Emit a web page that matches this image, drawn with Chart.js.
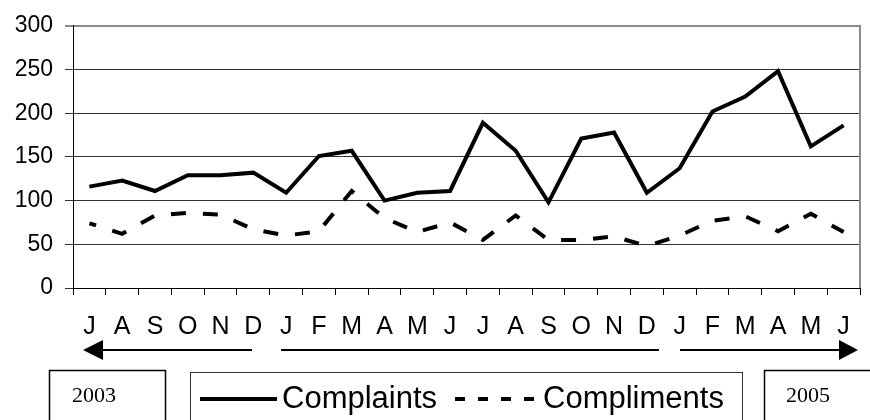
<!DOCTYPE html>
<html><head><meta charset="utf-8">
<script src="https://cdn.jsdelivr.net/npm/chart.js@4/dist/chart.umd.min.js"></script>
<style>html,body{margin:0;padding:0;background:#fff;} #wrap{width:870px;height:420px;position:relative;overflow:hidden}</style>
</head><body><div id="wrap"><canvas id="c" width="870" height="420"></canvas></div>
<script>
const months = ['J','A','S','O','N','D','J','F','M','A','M','J','J','A','S','O','N','D','J','F','M','A','M','J'];
const complaints = [116,123,111,129,129,132,109,151,157,100,109,111,189,157,98,171,178,109,137,202,219,248,162,186];
const compliments = [74,62,83,86,84,67,60,65,111,80,64,75,55,83,55,55,59,48,60,77,82,65,85,64];
const seriesNames = ['Complaints','Compliments'];
const yearLabels = ['2003','2005'];
const yMin = 0, yMax = 300, yStep = 50;

const SANS = '"Liberation Sans", Arial, sans-serif';
const SERIF = '"Liberation Serif", "Times New Roman", serif';

const extras = {
  id: 'extras',
  afterDraw(chart) {
    const ctx = chart.ctx;
    const a = chart.chartArea;
    ctx.save();
    // right plot border (gray)
    ctx.strokeStyle = '#8c8c8c';
    ctx.lineWidth = 2;
    ctx.beginPath();
    ctx.moveTo(a.right, a.top - 1);
    ctx.lineTo(a.right, a.bottom);
    ctx.stroke();

    // arrows
    const ay = 350;
    ctx.strokeStyle = '#000';
    ctx.fillStyle = '#000';
    ctx.lineWidth = 2;
    ctx.beginPath();
    ctx.moveTo(100, ay); ctx.lineTo(252, ay);
    ctx.moveTo(281, ay); ctx.lineTo(659, ay);
    ctx.moveTo(680, ay); ctx.lineTo(842, ay);
    ctx.stroke();
    ctx.beginPath();
    ctx.moveTo(83, ay); ctx.lineTo(103, ay - 10); ctx.lineTo(103, ay + 10); ctx.closePath();
    ctx.fill();
    ctx.beginPath();
    ctx.moveTo(858, ay); ctx.lineTo(839, ay - 10); ctx.lineTo(839, ay + 10); ctx.closePath();
    ctx.fill();

    // year boxes
    ctx.lineWidth = 1.5;
    ctx.strokeStyle = '#000';
    ctx.strokeRect(49.5, 370.5, 116, 60);
    ctx.strokeRect(764.5, 370.5, 120, 60);
    ctx.font = '22px ' + SERIF;
    ctx.textBaseline = 'alphabetic';
    ctx.textAlign = 'left';
    ctx.fillText(yearLabels[0], 72, 402);
    ctx.fillText(yearLabels[1], 786, 402);

    // legend box
    ctx.lineWidth = 1;
    ctx.strokeStyle = '#333';
    ctx.strokeRect(190.5, 372.5, 552, 60);
    ctx.lineWidth = 4;
    ctx.strokeStyle = '#000';
    ctx.beginPath();
    ctx.moveTo(200, 399); ctx.lineTo(277, 399);
    ctx.stroke();
    ctx.setLineDash([10, 13]);
    ctx.beginPath();
    ctx.moveTo(455, 399); ctx.lineTo(540, 399);
    ctx.stroke();
    ctx.setLineDash([]);
    ctx.font = '31px ' + SANS;
    ctx.fillText(seriesNames[0], 282, 408);
    ctx.fillText(seriesNames[1], 543, 408);
    ctx.restore();
  }
};

new Chart(document.getElementById('c'), {
  type: 'line',
  data: {
    labels: months,
    datasets: [
      { label: seriesNames[0], data: complaints, borderColor: '#000', borderWidth: 4, pointRadius: 0, tension: 0, fill: false },
      { label: seriesNames[1], data: compliments, borderColor: '#000', borderWidth: 4, borderDash: [15, 17], borderDashOffset: 8, pointRadius: 0, tension: 0, fill: false }
    ]
  },
  options: {
    responsive: false,
    animation: false,
    devicePixelRatio: 1,
    layout: { padding: { top: 24, right: 10, left: 0, bottom: 0 } },
    plugins: { legend: { display: false }, tooltip: { enabled: false } },
    scales: {
      x: {
        type: 'category',
        offset: true,
        grid: { offset: true, drawOnChartArea: false, drawTicks: true, tickLength: 7, color: '#000', lineWidth: 1 },
        border: { color: '#000', width: 1 },
        ticks: { font: { family: SANS, size: 25 }, color: '#000', padding: 17, autoSkip: false, maxRotation: 0 },
        afterFit: s => { s.height = 132; }
      },
      y: {
        min: yMin, max: yMax,
        ticks: { stepSize: yStep, font: { family: SANS, size: 23 }, color: '#000', padding: 12 },
        grid: {
          color: c => (c.tick && c.tick.value === yMax) ? '#8c8c8c' : '#333',
          lineWidth: c => (c.tick && c.tick.value === yMax) ? 2 : 1,
          tickLength: 8
        },
        border: { color: '#000', width: 1 },
        afterFit: s => { s.width = 73; }
      }
    }
  },
  plugins: [extras]
});
</script>
</body></html>
